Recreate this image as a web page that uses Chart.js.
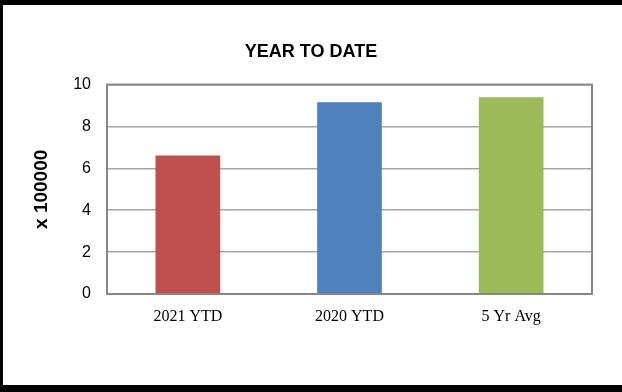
<!DOCTYPE html>
<html>
<head>
<meta charset="utf-8">
<script src="https://cdn.jsdelivr.net/npm/chart.js@4"></script>
<style>
  html, body { margin: 0; padding: 0; background: #fff; }
  #frame {
    width: 622px; height: 392px; box-sizing: border-box;
    border-left: 3px solid #000; border-top: 5px solid #000; border-bottom: 7px solid #000;
    position: relative;
  }
  #chartBox { width: 619px; height: 380px; position: relative; }
</style>
</head>
<body>
<div id="frame">
  <div id="chartBox"><canvas id="myChart"></canvas></div>
</div>
<script>
// chart data
const categories = ["2021 YTD", "2020 YTD", "5 Yr Avg"];
const ytdValues = [6.62, 9.16, 9.40];
const barColors = ["#C0504D", "#4F81BD", "#9BBB59"];
const yTicks = [0, 2, 4, 6, 8, 10];

// border around the plot area
const plotBorder = {
    id: "plotBorder",
    afterDraw(chart) {
        const { ctx, chartArea } = chart;
        ctx.save();
        ctx.strokeStyle = "#878787";
        ctx.lineWidth = 2;
        ctx.strokeRect(chartArea.left, chartArea.top, chartArea.right - chartArea.left, chartArea.bottom - chartArea.top);
        ctx.restore();
    }
};

document.addEventListener("DOMContentLoaded", () => {
    const ctx = document.getElementById("myChart").getContext("2d");
    new Chart(ctx, {
        type: "bar",
        data: {
            labels: categories,
            datasets: [{
                data: ytdValues,
                backgroundColor: barColors,
                borderWidth: 0,
                categoryPercentage: 1,
                barPercentage: 0.4,
            }],
        },
        options: {
            responsive: true,
            maintainAspectRatio: false,
            animation: false,
            layout: { padding: { left: 27, right: 30, top: 36, bottom: 0 } },
            plugins: {
                legend: { display: false },
                tooltip: { enabled: false },
                title: {
                    display: true,
                    text: "YEAR TO DATE",
                    color: "#000",
                    font: { family: "Liberation Sans", size: 18, weight: "bold" },
                    padding: { top: 0, bottom: 22 },
                },
            },
            scales: {
                x: {
                    grid: { display: false },
                    border: { display: false },
                    ticks: {
                        color: "#000",
                        font: { family: "Liberation Serif", size: 16 },
                        padding: 5,
                    },
                    afterFit(scale) { scale.height = 91; },
                },
                y: {
                    min: 0,
                    max: 10,
                    afterBuildTicks(scale) { scale.ticks = yTicks.map(v => ({ value: v })); },
                    grid: { color: "#A6A6A6", lineWidth: 1.5, drawTicks: false },
                    border: { display: false },
                    ticks: {
                        color: "#000",
                        font: { family: "Liberation Sans", size: 16 },
                        padding: 16,
                    },
                    title: {
                        display: true,
                        text: "x 100000",
                        color: "#000",
                        font: { family: "Liberation Sans", size: 19, weight: "bold" },
                        padding: { top: 0, bottom: 0 },
                    },
                    afterFit(scale) { scale.width = 77; },
                },
            },
        },
        plugins: [plotBorder],
    });
});
</script>
</body>
</html>
